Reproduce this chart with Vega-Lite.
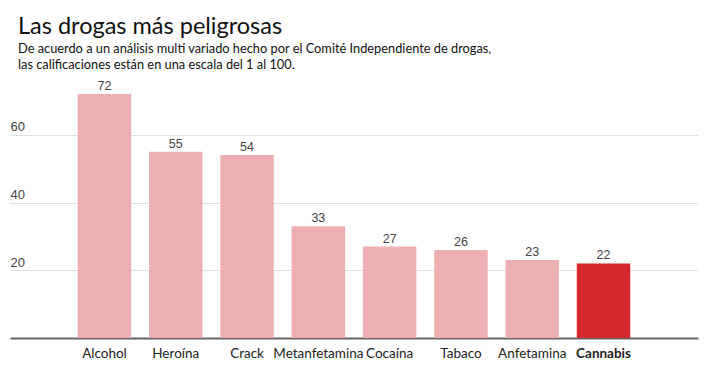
{
  "$schema": "https://vega.github.io/schema/vega-lite/v6.json",
  "autosize": "none",
  "width": 688,
  "height": 271,
  "padding": {"left": 10, "top": 67, "right": 30, "bottom": 52},
  "background": "white",
  "title": {
    "text": "Las drogas más peligrosas",
    "subtitle": ["De acuerdo a un análisis multi variado hecho por el Comité Independiente de drogas,", "las calificaciones están en una escala del 1 al 100."],
    "anchor": "start",
    "frame": "group",
    "dx": 8,
    "offset": -5,
    "font": "Lato",
    "fontSize": 23.5,
    "fontWeight": "normal",
    "color": "#111",
    "subtitleFont": "Lato",
    "subtitleFontSize": 12.8,
    "subtitleColor": "#111",
    "subtitleLineHeight": 16,
    "subtitlePadding": 5
  },
  "data": {
    "values": [
      {"droga": "Alcohol", "valor": 72},
      {"droga": "Heroína", "valor": 55},
      {"droga": "Crack", "valor": 54},
      {"droga": "Metanfetamina", "valor": 33},
      {"droga": "Cocaína", "valor": 27},
      {"droga": "Tabaco", "valor": 26},
      {"droga": "Anfetamina", "valor": 23},
      {"droga": "Cannabis", "valor": 22}
    ]
  },
  "encoding": {
    "x": {
      "field": "droga",
      "type": "nominal",
      "sort": null,
      "scale": {"paddingInner": 0.25, "paddingOuter": 0.95},
      "axis": {
        "title": null,
        "labelAngle": 0,
        "ticks": false,
        "domainColor": "#666",
        "domainWidth": 2,
        "labelFont": "Lato",
        "labelFontSize": 13.5,
        "labelColor": "#222",
        "labelPadding": 8,
        "labelFontWeight": {"condition": {"test": "datum.value === 'Cannabis'", "value": "bold"}, "value": "normal"}
      }
    },
    "y": {
      "field": "valor",
      "type": "quantitative",
      "scale": {"domain": [0, 80]},
      "axis": {
        "title": null,
        "values": [20, 40, 60],
        "domain": false,
        "ticks": false,
        "grid": true,
        "gridColor": "#e0e0e0",
        "gridWidth": 1,
        "labelAlign": "left",
        "labelBaseline": "alphabetic",
        "labelPadding": 0,
        "labelOffset": -4,
        "labelFont": "Liberation Sans",
        "labelFontSize": 13,
        "labelColor": "#444"
      }
    }
  },
  "layer": [
    {
      "mark": {"type": "bar"},
      "encoding": {
        "color": {"condition": {"test": "datum.droga === 'Cannabis'", "value": "#d5282c"}, "value": "#ecb0b2"}
      }
    },
    {
      "mark": {"type": "text", "baseline": "alphabetic", "dy": -4, "font": "Liberation Sans", "fontSize": 12.5, "color": "#444"},
      "encoding": {"text": {"field": "valor", "type": "quantitative"}}
    }
  ],
  "config": {"view": {"stroke": null}}
}
